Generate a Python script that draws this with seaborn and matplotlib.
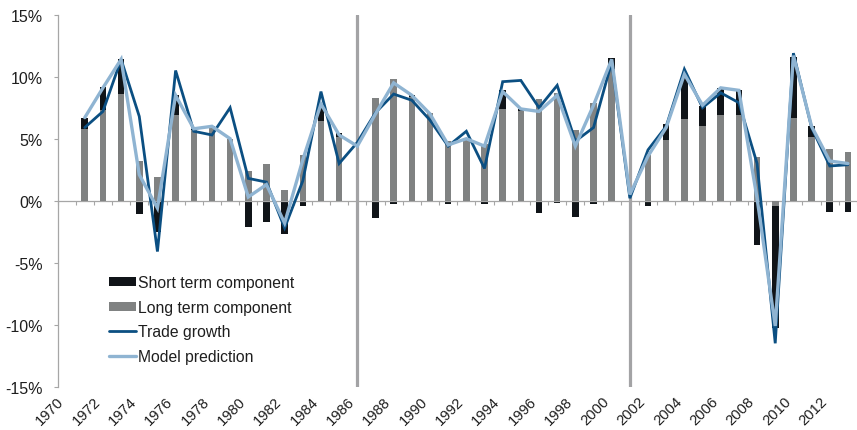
import numpy as np
import pandas as pd
import matplotlib
matplotlib.use("Agg")
import matplotlib.pyplot as plt
import seaborn as sns

# ---------------- data (percent) ----------------
years = list(range(1970, 2014))
long_term = [np.nan, 5.8, 7.3, 8.6, 3.2, 1.9, 6.9, 5.7, 5.9, 5.0,
             2.4, 3.0, 0.9, 3.7, 6.4, 5.1, np.nan, 8.3, 9.8, 8.4,
             7.1, 4.8, 4.9, 4.6, 7.4, 7.2, 8.2, 8.7, 5.7, 7.9,
             10.6, np.nan, 3.7, 4.9, 6.6, 6.0, 6.9, 6.9, 3.5, -0.4,
             6.7, 5.1, 4.2, 3.9]
short_term = [np.nan, 0.9, 1.9, 2.8, -1.1, -2.5, 1.6, 0.1, 0.1, 0.0,
              -2.1, -1.7, -2.7, -0.4, 1.2, 0.4, np.nan, -1.4, -0.3, 0.1,
              -0.1, -0.3, 0.1, -0.3, 1.5, 0.2, -1.0, -0.15, -1.3, -0.25,
              0.9, np.nan, -0.4, 1.3, 3.5, 1.6, 2.2, 2.0, -3.6, -9.9,
              4.9, 0.9, -0.9, -0.9]
trade_growth = [np.nan, 5.9, 7.2, 11.4, 6.8, -4.1, 10.5, 5.6, 5.3, 7.5,
                1.8, 1.5, -2.2, 1.6, 8.8, 3.0, 4.7, 7.1, 8.6, 8.1,
                6.5, 4.4, 5.6, 2.6, 9.6, 9.7, 7.5, 9.3, 4.8, 5.9,
                11.2, 0.2, 4.1, 6.0, 10.6, 7.5, 8.7, 7.9, 3.0, -11.5,
                11.9, 5.9, 2.8, 2.9]
model_prediction = [np.nan, 6.7, 9.1, 11.4, 2.1, -0.6, 8.5, 5.8, 6.0, 5.0,
                    0.3, 1.3, -1.8, 3.3, 7.8, 5.3, 4.4, 7.0, 9.5, 8.5,
                    7.0, 4.5, 5.0, 4.4, 8.8, 7.4, 7.2, 8.5, 4.4, 7.7,
                    11.4, 0.5, 3.6, 5.9, 10.2, 7.7, 9.1, 8.9, 0.2, -10.1,
                    11.7, 6.0, 3.2, 3.0]
break_years = [1986, 2001]
y_ticks = [-15, -10, -5, 0, 5, 10, 15]
x_label_years = list(range(1970, 2013, 2))
legend_order = ["Short term component", "Long term component",
                "Trade growth", "Model prediction"]

# ---------------- style ----------------
BLACK = "#101418"
GRAY = "#808282"
DARK = "#0b4f82"
LIGHT = "#8fb4d2"
AXIS = "#a6a6a6"
VLINE = "#a3a3a5"
TEXT = "#1e1e1e"

sns.set_style("white")
plt.rcParams["font.family"] = ["Liberation Sans", "DejaVu Sans"]

W, H = 857, 431
fig = plt.figure(figsize=(W / 100, H / 100), dpi=100)
ax_left, ax_right, ax_top, ax_bottom = 57.5, 857, 15.7, 387.7
ax = fig.add_axes([ax_left / W, 1 - ax_bottom / H,
                   (ax_right - ax_left) / W, (ax_bottom - ax_top) / H])

df = pd.DataFrame({"year": years, "long": long_term, "short": short_term,
                   "trade": trade_growth, "model": model_prediction})
bars = df.dropna(subset=["long"]).copy()
# Excel-style stacking: a short component of the same sign sits on top of the long one
same_sign = np.sign(bars["short"]) == np.sign(bars["long"])
bars["short_stack"] = np.where(same_sign, bars["long"] + bars["short"], bars["short"])

sns.barplot(x=bars["year"], y=bars["short_stack"], native_scale=True, width=0.36,
            color=BLACK, saturation=1, errorbar=None, linewidth=0, ax=ax,
            label=legend_order[0], zorder=2)
sns.barplot(x=bars["year"], y=bars["long"], native_scale=True, width=0.36,
            color=GRAY, saturation=1, errorbar=None, linewidth=0, ax=ax,
            label=legend_order[1], zorder=3)

for yr in break_years:
    ax.axvline(yr, color=VLINE, lw=2.3, zorder=3.5)

sns.lineplot(x=df["year"], y=df["trade"], color=DARK, lw=2.0, ax=ax,
             label=legend_order[2], zorder=4, solid_joinstyle="miter")
sns.lineplot(x=df["year"], y=df["model"], color=LIGHT, lw=2.4, ax=ax,
             label=legend_order[3], zorder=5, solid_joinstyle="miter")

# ---------------- axes ----------------
ax.set_ylim(-15, 15)
ax.set_xlim(1969.5, 1969.5 + (ax_right - ax_left) / 18.35)
ax.set_xlabel("")
ax.set_ylabel("")
for s in ("top", "right"):
    ax.spines[s].set_visible(False)
ax.spines["bottom"].set_position(("data", 0))
ax.spines["bottom"].set_color(AXIS)
ax.spines["left"].set_color(AXIS)
ax.spines["bottom"].set_linewidth(0.9)
ax.spines["left"].set_linewidth(0.9)

ax.set_yticks(y_ticks)
ax.set_yticklabels([f"{v}%" for v in y_ticks])
ax.tick_params(axis="y", left=True, direction="out", length=3, width=0.8,
               color=AXIS, pad=7.5, labelsize=11.5, labelcolor=TEXT)
ax.set_xticks(np.arange(1969.5, 2014.0, 1.0))
ax.set_xticklabels([])
ax.tick_params(axis="x", bottom=True, direction="out", length=3, width=0.8,
               color=AXIS)

sec = ax.secondary_xaxis(0.0)
sec.set_xticks(x_label_years)
sec.set_xticklabels([str(y) for y in x_label_years], rotation=45,
                    ha="right", va="top")
sec.tick_params(bottom=True, length=0, pad=5, labelsize=10.6, labelcolor=TEXT)
sec.spines["bottom"].set_visible(False)

handles, labels = ax.get_legend_handles_labels()
lookup = dict(zip(labels, handles))
ax.legend([lookup[l] for l in legend_order], legend_order, loc="upper left",
          bbox_to_anchor=(109 / W, 1 - 276 / H), bbox_transform=fig.transFigure,
          frameon=False, borderpad=0, borderaxespad=0, handlelength=1.7,
          handleheight=0.5, handletextpad=0.15, labelspacing=0.62,
          fontsize=11.3, labelcolor=TEXT)

fig.savefig("out.png", dpi=100)
